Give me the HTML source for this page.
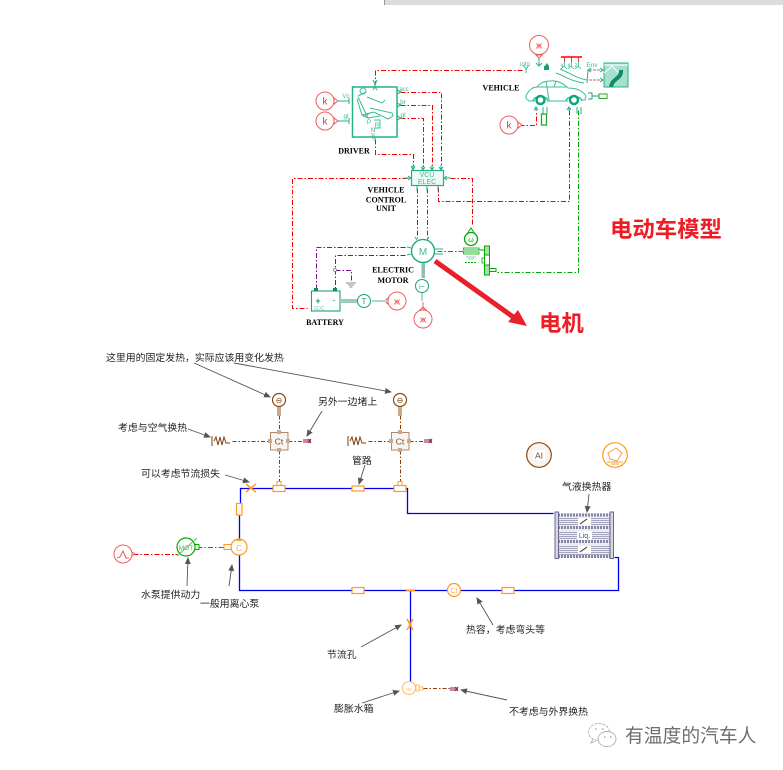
<!DOCTYPE html>
<html><head><meta charset="utf-8"><style>
html,body{margin:0;padding:0;background:#fff}
svg{display:block}
.cn{font-family:"Liberation Sans","WenQuanYi Zen Hei","Noto Sans CJK SC",sans-serif;font-size:9.9px;fill:#222}
.en{font-family:"Liberation Serif",serif;font-size:8px;font-weight:bold;fill:#000;text-anchor:middle}
.t{font-family:"Liberation Sans",sans-serif;text-anchor:middle}
.r{stroke:#f00000;stroke-width:1;stroke-dasharray:5 2 1.5 2;fill:none}
.g{stroke:#00a800;stroke-width:1;stroke-dasharray:5 2 1.5 2;fill:none}
.p{stroke:#7a108c;stroke-width:1;stroke-dasharray:5 2 1.5 2;fill:none}
.b{stroke:#8a3c00;stroke-width:1;stroke-dasharray:4 2 1.5 2;fill:none}
.k{stroke:#f25a5a;stroke-width:1;fill:#fff}
.tl{stroke:#25b08a;fill:none;stroke-width:1}
.w{stroke:#0000f0;stroke-width:1.300;fill:none}
.o{stroke:#ff9a1e;stroke-width:1.200;fill:#fff}
.a{stroke:#555;stroke-width:.9;fill:none;marker-end:url(#ah)}
</style></head><body>
<svg width="783" height="770" viewBox="0 0 783 770" xmlns="http://www.w3.org/2000/svg">
<defs>
<marker id="ah" markerWidth="7" markerHeight="6" refX="6" refY="3" orient="auto" markerUnits="userSpaceOnUse"><path d="M0 0L7 3L0 6Z" fill="#555"/></marker>
</defs>
<rect x="384" y="0" width="399" height="5" fill="#dcdcdc"/>
<rect x="384" y="0" width="1" height="5" fill="#999"/>

<g transform="translate(.5 .5)">
<path class="r" d="M522 70H375V84"/>
<path class="r" d="M400 92H441V167"/>
<path class="r" d="M400 105H432V167"/>
<path class="r" d="M400 118H423V167"/>
<path class="r" d="M375 139V154H413V166"/>
<path class="r" d="M450 178H472V226"/>
<path class="r" d="M407 178H292V308H307"/>
<path class="r" d="M438 187V201H569V108"/>
<path class="g" d="M578 110V272H497"/>
<path class="r" d="M417 188V238"/>
<path class="r" d="M427 188V238"/>
<path class="p" d="M405 247H316V290"/>
<path class="p" d="M405 255H335V288"/>
<path class="p" d="M335 270H351V280"/>
<path class="g" d="M437 251H463"/>
<path class="r" d="M519 125H536V110"/>
<path class="b" d="M279 415V432M400 415V432M279 450V481M400 450V481M232 441H270M288 441H303M368 441H391M409 441H424M423 688H450"/>
<path class="w" d="M240 503V488H400M405 488H407V513H553"/>
<path class="w" d="M239 515V590H618V557H614"/>
<path class="w" d="M410 590V681"/>
<path class="g" d="M197 547H224"/>
<path class="r" d="M133 554H177"/>
</g>

<!-- k constants -->
<g class="k">
<circle cx="539" cy="45" r="9.500"/><circle cx="325" cy="101" r="9"/><circle cx="325" cy="121" r="9"/>
<circle cx="509" cy="125" r="9"/><circle cx="397" cy="301" r="9"/><circle cx="423" cy="319" r="9"/>
<path d="M334 98l4 3-4 3zM334 118l4 3-4 3zM518 122l4 3-4 3zM536 55l3 3 3-3zM388 298l-3 3 3 3zM420 310l3-3 3 3z"/>
</g>
<g class="t" font-size="10" fill="#f03030">
<text x="325" y="104.500">k</text><text x="325" y="124.500">k</text><text x="509" y="128.500">k</text>
<text x="539" y="48.500" font-size="9">ж</text><text x="397" y="304.500" font-size="9">ж</text><text x="423" y="322.500" font-size="9">ж</text>
</g>
<path d="M539 58V66M536 63l3 3 3-3" fill="none" stroke="#25b08a"/>

<!-- driver -->
<rect x="352.500" y="87" width="44.500" height="50" fill="#fff" stroke="#25b08a" stroke-width="1.500"/>
<g fill="none" stroke="#3cbc98" stroke-width="1">
<circle cx="363" cy="91" r="3"/>
<path d="M358 96L366 92M358 97L368 118L362 115L357 99M367 97L382 103L385 100M370 108L392 113L393 116L388 119L374 112L362 115M363 117L372 112M368 118L380 116"/>
<path d="M374 120H380V128H374"/>
<path d="M373 135V139"/>
</g>
<g class="t" font-size="6.500" fill="#3fb896">
<text x="369" y="124">P</text><text x="377" y="127">R</text><text x="373" y="132">N</text><text x="373" y="137" font-size="5">D</text>
<text x="346" y="98">Vc</text><text x="346" y="118">gl</text>
<text x="404" y="91" font-size="6">acc</text><text x="403" y="104">br</text><text x="403" y="117">gl</text>
<text x="525" y="66" font-size="6">info</text><text x="562" y="67" font-size="6">v</text><text x="569" y="67" font-size="6">x</text><text x="576" y="67" font-size="6">z</text>
<text x="592" y="67" font-size="6.500">Env</text>
</g>
<path class="tl" d="M337 101H349M337 121H349M349 98V104M349 118V124M397 90l4 2-4 2M397 103l4 2-4 2M397 116l4 2-4 2M373 80l2 5 2-5M375 85V87M373 90l2-3 2 3M375 137V141"/>

<!-- VCU -->
<rect x="411.500" y="170.500" width="32" height="15" fill="#eefaf6" stroke="#25b08a" stroke-width="1.200"/>
<g class="t" font-size="7" fill="#3fb896"><text x="427" y="177">VCU</text><text x="427" y="184">ELEC</text></g>
<path class="tl" d="M404 178H411M408 176l3 2-3 2M444 178H451M447 176l-3 2 3 2M413 165V170M423 165V170M432 165V170M441 165V170M411 166l2 4 2-4M421 167l2 3 2-3M430 167l2 3 2-3M439 167l2 3 2-3M417 186V191M427 186V191M438 186V191"/>

<!-- vehicle -->
<g fill="none" stroke="#3cbc98">
<path d="M535 101H530C526 100 525 97 527 94C529 90 533 87 537 87C540 83 544 81 550 81C558 80 564 84 568 88C575 88 582 90 586 96L585 100H581M568 101H547"/>
<path d="M537 87H566M546 81L549 100M556 81L554 87"/>
<path d="M556 73C565 76 570 81 584 83M560 69C570 73 578 79 587 80"/>
<path d="M523 65l3 4 3-4M526 69V73"/>
<path d="M533 101C534 95 547 95 548 101M566 101C567 95 581 95 582 101" stroke-width="1.500"/>
</g>
<circle cx="540.500" cy="100" r="4" fill="#fff" stroke="#0fa57f" stroke-width="2.500"/>
<circle cx="574" cy="100" r="4" fill="#fff" stroke="#0fa57f" stroke-width="2.500"/>
<path class="tl" d="M536 108v3M534 110l2-3 2 3M569 108v3M567 110l2-3 2 3M543 107V114M547 107V114M577 107V114M581 107V114"/>
<rect x="541.500" y="114" width="5" height="11" fill="#fff" stroke="#2aa52a" stroke-width="1.300"/>
<rect x="599" y="94" width="8" height="4.500" fill="#fff" stroke="#2aa52a"/>
<path d="M588 93h4v6h-4M592 96h7" stroke="#1da080" fill="none"/>
<path d="M544 66h5v4h-5zM545 66l2-3 2 3" fill="#1d9a78"/>
<g fill="none">
<path d="M561 57h7M568 57h7M575 57h7" stroke="#f00" stroke-width="1.500"/>
<path d="M564.500 57V62M571.500 57V62M578.500 57V62" stroke="#f00" stroke-width=".8"/>
<path d="M564.500 62V66M571.500 62V66M578.500 62V66M561 69l3-3 3 3M568 69l3-3 3 3M575 69l3-3 3 3" stroke="#3cbc98" stroke-width=".8"/>
</g>
<rect x="604" y="63" width="24" height="24" fill="#a8e0cf" stroke="#25b08a"/>
<path d="M611 87C612 78 622 79 621 70" stroke="#118a66" stroke-width="4" fill="none"/>
<path d="M604 73L612 66L618 72M604 65H628" stroke="#fff" fill="none"/>
<path d="M589 70H603M589 80H603" stroke="#e0605c" stroke-dasharray="3 1"/>
<path d="M591 68l-3 2 3 2M600 68l3 2-3 2M600 78l3 2-3 2M588 70L587 83" fill="none" stroke="#25b08a"/>

<!-- motor area -->
<circle cx="423" cy="251" r="11.500" fill="#fff" stroke="#0fa57f" stroke-width="1.300"/>
<text class="t" x="423" y="255" font-size="10" fill="#3fb896">M</text>
<path class="tl" d="M434 249h9M434 254h9M411 248l-4-1M411 254l-4 1M417 240l-2-3M427 240l2-3"/>
<rect x="421.500" y="263" width="3.500" height="15" fill="#8fbfb2"/>
<circle cx="422" cy="286" r="6.500" fill="#fff" stroke="#0fa57f"/>
<text class="t" x="422" y="289" font-size="7" fill="#1d9a78">⊢</text>
<path d="M422 293V301" stroke="#a8dcc8" stroke-width="2"/>
<path d="M423 302V310" stroke="#f06a6a"/>

<!-- battery -->
<rect x="311.500" y="291" width="28.500" height="20" fill="#fff" stroke="#1da080" stroke-width="1.100"/>
<rect x="314" y="288" width="4" height="3" fill="#0f8a68"/><rect x="333" y="288" width="4" height="3" fill="#0f8a68"/>
<text class="t" x="318" y="304" font-size="9" fill="#1d9a78" font-weight="bold">+</text>
<text class="t" x="334" y="303" font-size="9" fill="#1d9a78">-</text>
<text class="t" x="319" y="310" font-size="5" fill="#7fc9b3">SOC</text>
<rect x="340" y="299" width="17" height="4" fill="#9ccabc"/>
<circle cx="364" cy="301" r="6.500" fill="#fff" stroke="#0fa57f"/>
<text class="t" x="364" y="304" font-size="8" fill="#1d9a78">T</text>
<path d="M372 301H388" stroke="#a8dcc8" stroke-width="2"/>
<circle cx="335" cy="270" r="1.500" fill="#fff" stroke="#777" stroke-width=".7"/>
<path d="M346 283h10M348 285h6M349.500 287h3" stroke="#666" fill="none" stroke-width=".8"/>

<!-- green mech -->
<circle cx="471" cy="239" r="6.500" fill="#fff" stroke="#00a800" stroke-width="1.300"/>
<text class="t" x="471" y="242" font-size="7" fill="#00a800">ω</text>
<path d="M467 234L471 228L475 234" fill="none" stroke="#00a800"/>
<rect x="463.500" y="248" width="15.500" height="2" fill="#fff" stroke="#00a800" stroke-width=".8"/>
<rect x="463.500" y="252" width="15.500" height="2" fill="#fff" stroke="#00a800" stroke-width=".8"/>
<path d="M466 257h10M468 259h6" stroke="#9ccabc"/>
<path d="M465 262.500h11" stroke="#00a800" stroke-dasharray="2 1"/>
<rect x="484.500" y="246" width="5" height="9" fill="#a8dca8" stroke="#00a800"/>
<rect x="484.500" y="255" width="5" height="10" fill="#fff" stroke="#00a800"/>
<rect x="484.500" y="265" width="5" height="10" fill="#a8dca8" stroke="#00a800"/>
<rect x="482" y="258" width="2.500" height="5" fill="#fff" stroke="#00a800" stroke-width=".8"/>
<path d="M490 268.500h6v3h-6" fill="none" stroke="#00a800"/>
<path d="M479 250h5" stroke="#00a800"/>

<!-- big red arrow -->
<path d="M435 261L516 319" stroke="#e8202a" stroke-width="5" fill="none"/>
<path d="M527 326L508 322L518 310Z" fill="#e8202a"/>

<text class="en" x="501" y="90.500">VEHICLE</text>
<text class="en" x="354" y="153.500">DRIVER</text>
<text class="en" x="386" y="192.500">VEHICLE</text>
<text class="en" x="386" y="202.500">CONTROL</text>
<text class="en" x="386" y="211">UNIT</text>
<text class="en" x="393" y="272.500">ELECTRIC</text>
<text class="en" x="393" y="283">MOTOR</text>
<text class="en" x="325" y="325">BATTERY</text>

<text x="610" y="237" font-family="'Liberation Sans','Noto Sans CJK SC',sans-serif" font-size="22.400" font-weight="bold" fill="#ee1c25">电动车模型</text>
<text x="539" y="331" font-family="'Liberation Sans','Noto Sans CJK SC',sans-serif" font-size="22.400" font-weight="bold" fill="#ee1c25">电机</text>

<!-- thermal -->
<g>
<circle cx="279" cy="400" r="6.500" fill="#fff" stroke="#8a4a14" stroke-width="1.200"/>
<circle cx="400" cy="400" r="6.500" fill="#fff" stroke="#8a4a14" stroke-width="1.200"/>
<text class="t" x="279" y="403" font-size="8" fill="#8a4a14">⊖</text>
<text class="t" x="400" y="403" font-size="8" fill="#8a4a14">⊖</text>
<rect x="277" y="407" width="4" height="9" fill="#c9a88e"/><rect x="398" y="407" width="4" height="9" fill="#c9a88e"/>
<rect x="270.500" y="432.500" width="17.500" height="17.500" fill="#f8f4f0" stroke="#b08a6e"/>
<rect x="391.500" y="432.500" width="17.500" height="17.500" fill="#f8f4f0" stroke="#b08a6e"/>
<text class="t" x="279" y="444.500" font-size="8.500" fill="#6e4a30">Ct</text>
<text class="t" x="400" y="444.500" font-size="8.500" fill="#6e4a30">Ct</text>
<path d="M277 430h4v4h-4zM277 448h4v4h-4zM268 439h4v4h-4zM286 439h4v4h-4zM398 430h4v4h-4zM398 448h4v4h-4zM389 439h4v4h-4zM407 439h4v4h-4z" fill="#c9a88e"/>
<path d="M212 436V446M214 441l2-4 2 8 2-8 2 8 2-8 2 6 4 0" fill="none" stroke="#7a3f15"/>
<path d="M348 436V446M350 441l2-4 2 8 2-8 2 8 2-8 2 6 4 0" fill="none" stroke="#7a3f15"/>
<rect x="303" y="439" width="8" height="4" fill="#c88aa8"/><rect x="424" y="439" width="8" height="4" fill="#c88aa8"/>
<path d="M308 439l3 4M311 439l-3 4M429 439l3 4M432 439l-3 4" stroke="#8a1a4a"/>
</g>

<g>
<path d="M246 484L256 492M256 484L246 492" stroke="#ff9a1e" stroke-width="1.500"/>
<rect x="273" y="485.500" width="12" height="6" class="o"/><rect x="277" y="481.500" width="4" height="4" fill="#fff" stroke="#ff9a1e"/>
<rect x="352" y="486" width="12" height="5" class="o"/>
<rect x="394" y="485.500" width="12" height="6" class="o"/><rect x="398" y="481.500" width="4" height="4" fill="#fff" stroke="#ff9a1e"/>
<rect x="236.500" y="503.500" width="5.500" height="11.500" class="o"/>
<circle cx="239" cy="547" r="8" class="o"/>
<text class="t" x="239" y="551" font-size="8" fill="#f5b060">C</text>
<path d="M236 541h6l-3-3z" fill="#ff9a1e"/>
<rect x="224" y="544.500" width="7" height="5" fill="#fff" stroke="#ff9a1e"/>
<rect x="352" y="587.500" width="12" height="6" class="o"/>
<rect x="502" y="587.500" width="12" height="6" class="o"/>
<path d="M406 590.500h9" stroke="#ff9a1e" stroke-width="2"/>
<circle cx="454" cy="590" r="6.500" class="o"/>
<text class="t" x="454" y="593" font-size="7" fill="#f5b060">Ct</text>
<path d="M407 619L413 630M413 619L407 630" stroke="#ff9a1e" stroke-width="1.500"/>
<circle cx="409" cy="688" r="6.500" fill="#fff" stroke="#ffb866"/>
<text class="t" x="409" y="691" font-size="5" fill="#ffb866">oo</text>
<rect x="416" y="685" width="3" height="6" fill="#fff" stroke="#ffb866"/><rect x="419" y="687" width="4" height="3" fill="#fff" stroke="#ffb866"/>
<rect x="450" y="687" width="8" height="4" fill="#c88aa8"/>
<path d="M455 687l3 4M458 687l-3 4" stroke="#8a1a4a"/>
</g>

<!-- pump motor -->
<circle cx="186" cy="547" r="9" fill="#fff" stroke="#00a800" stroke-width="1.200"/>
<text class="t" x="186" y="550" font-size="6.500" fill="#45b845">MOT</text>
<path d="M177 556L197 538" stroke="#5cc45c"/>
<rect x="195" y="544.500" width="4" height="5" fill="#fff" stroke="#00a800"/>
<circle cx="123" cy="554" r="9" class="k"/>
<path d="M117 558l3-1 3-6 3 7h3M132 552l3 2-3 2" fill="none" stroke="#f25a5a"/>

<!-- AI & icon -->
<circle cx="539" cy="455" r="12.300" fill="#f8f4f0" stroke="#8a4a14" stroke-width="1.200"/>
<rect x="533" y="450" width="12" height="10" fill="#fff"/>
<text class="t" x="539" y="458.500" font-size="8.500" fill="#6e4a30">AI</text>
<circle cx="615" cy="455" r="12.300" fill="#fff" stroke="#ff9a1e" stroke-width="1.200"/>
<path d="M608 453l8-5 6 5-5 8-7-2zM607 462h16M611 464h8" fill="none" stroke="#f5a040"/>

<!-- heat exchanger -->
<g>
<rect x="558" y="513" width="52" height="45" fill="#ececf3"/>
<path d="M558 518.500h52M558 520.500h52M558 522.500h52M558 524.500h52M558 532.500h52M558 534.500h52M558 536.500h52M558 538.500h52M558 546.500h52M558 548.500h52M558 550.500h52M558 552.500h52M558 554.500h52" stroke="#a6a6c0" stroke-width="1"/>
<path d="M558 515h52M558 527.500h52M558 541.500h52M558 556.500h52" stroke="#8585a4" stroke-width="3" stroke-dasharray="2 1"/>
<rect x="555" y="512" width="3.500" height="46.500" fill="#d8d8e4" stroke="#68688c"/>
<rect x="610" y="512" width="3.500" height="46.500" fill="#d8d8e4" stroke="#68688c"/>
<rect x="578" y="518" width="13" height="7" fill="#fff"/><rect x="578" y="546" width="13" height="7" fill="#fff"/>
<path d="M580 524l7-5M580 552l7-5" stroke="#555" stroke-width="1.200"/>
<rect x="577" y="531" width="15" height="9" fill="#fff"/>
<text class="t" x="584.500" y="538" font-size="7" fill="#555">Liq.</text>
</g>

<!-- annotations -->
<path class="a" d="M194 363L270 397"/>
<path class="a" d="M234 363L391 392"/>
<path class="a" d="M322 411L307 436"/>
<path class="a" d="M188 429L210 437"/>
<path class="a" d="M225 475L249 482"/>
<path class="a" d="M365 465L359 484"/>
<path class="a" d="M187 586L188 558"/>
<path class="a" d="M229 586L232 565"/>
<path class="a" d="M361 647L401 625"/>
<path class="a" d="M362 703L399 691"/>
<path class="a" d="M507 700L461 690"/>
<path class="a" d="M493 625L477 598"/>
<path class="a" d="M589 494L587 512"/>

<text class="cn" x="106" y="361">这里用的固定发热，实际应该用变化发热</text>
<text class="cn" x="318" y="405">另外一边堵上</text>
<text class="cn" x="118" y="431">考虑与空气换热</text>
<text class="cn" x="141" y="477">可以考虑节流损失</text>
<text class="cn" x="352" y="464">管路</text>
<text class="cn" x="562" y="490">气液换热器</text>
<text class="cn" x="141" y="598">水泵提供动力</text>
<text class="cn" x="200" y="607">一般用离心泵</text>
<text class="cn" x="466" y="633">热容，考虑弯头等</text>
<text class="cn" x="327" y="658">节流孔</text>
<text class="cn" x="334" y="712">膨胀水箱</text>
<text class="cn" x="509" y="715">不考虑与外界换热</text>

<!-- watermark -->
<g fill="#fff" stroke="#b0b0b0" stroke-width=".9">
<ellipse cx="599" cy="732" rx="10.500" ry="8.500" stroke-dasharray="3 1"/>
<path d="M593 739l-2 4 5-2"/>
<ellipse cx="607" cy="739" rx="9" ry="7.500"/>
</g>
<path d="M595 729h1.500M602 729h1.500M604 737h1.500M610 737h1.500" stroke="#999" stroke-width="1.200"/>
<text x="625" y="742" font-family="'Liberation Sans','WenQuanYi Zen Hei','Noto Sans CJK SC',sans-serif" font-size="18.800" fill="#6e6e6e">有温度的汽车人</text>
</svg>
</body></html>
